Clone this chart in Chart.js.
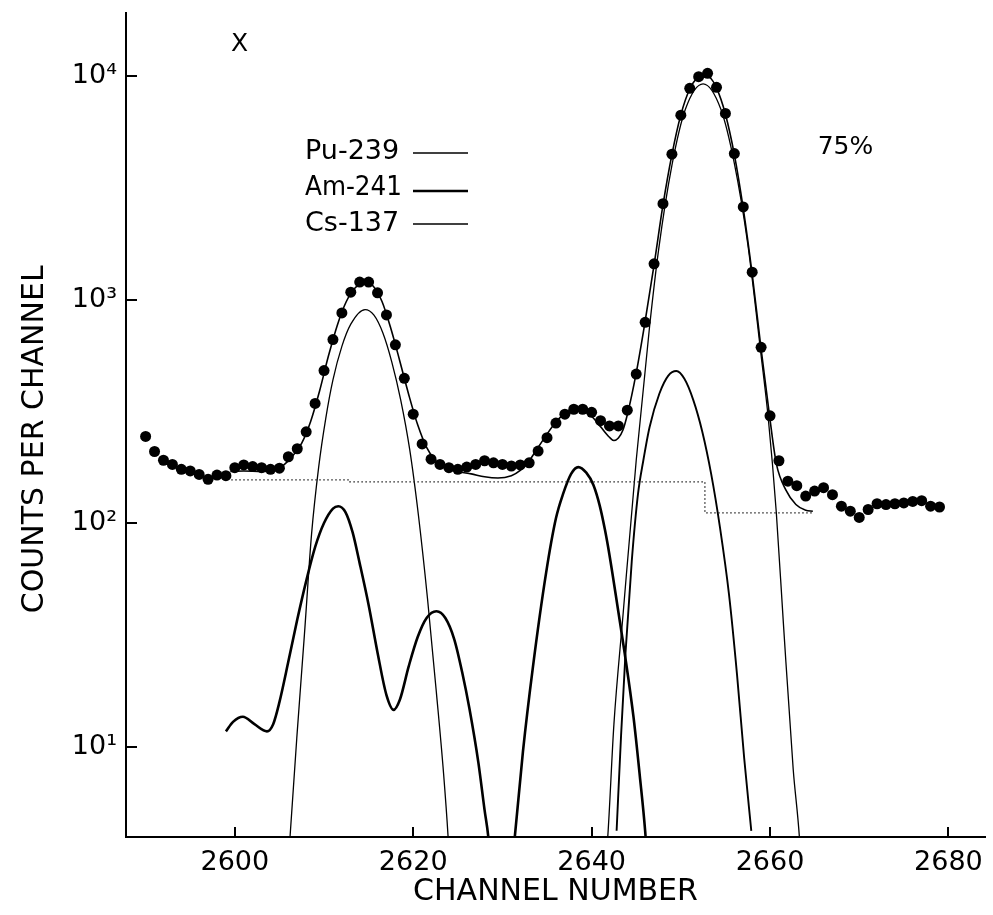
<!DOCTYPE html>
<html><head><meta charset="utf-8">
<script src="https://cdn.jsdelivr.net/npm/chart.js@4/dist/chart.umd.min.js"></script>
<style>html,body{margin:0;padding:0;background:#fff;}canvas{display:block;}</style>
</head><body>
<canvas id="c" width="993" height="915"></canvas>
<script>
// ---- measured data points (counts per channel) ----
const channels = [2590,2591,2592,2593,2594,2595,2596,2597,2598,2599,2600,2601,2602,2603,2604,2605,2606,2607,2608,2609,2610,2611,2612,2613,2614,2615,2616,2617,2618,2619,2620,2621,2622,2623,2624,2625,2626,2627,2628,2629,2630,2631,2632,2633,2634,2635,2636,2637,2638,2639,2640,2641,2642,2643,2644,2645,2646,2647,2648,2649,2650,2651,2652,2653,2654,2655,2656,2657,2658,2659,2660,2661,2662,2663,2664,2665,2666,2667,2668,2669,2670,2671,2672,2673,2674,2675,2676,2677,2678,2679];
const counts = [244,209,191,183,174,171,165,157,164,163,177,182,179,177,174,176,198,215,256,343,481,662,871,1079,1197,1197,1072,853,627,444,307,226,193,183,177,174,178,183,190,186,183,180,182,186,210,241,280,307,323,323,313,287,272,272,320,464,791,1445,2685,4470,6680,8810,9930,10280,8900,6800,4500,2595,1325,611,302,190,154,147,132,139,144,134,119,113,106,115,122,121,122,123,125,126,119,118];

// ---- total fit ----
const fitChannels = [2599.5,2601,2603,2604.5,2605.5,2606.5,2607.5,2608.5,2609.5,2610.5,2611.5,2612.5,2613.5,2614.6,2615.5,2616.5,2617.5,2618.5,2619.5,2620.5,2621.5,2622.5,2623.5,2625,2626.5,2628,2629.5,2631,2632,2633,2634,2635,2636,2637,2638,2639,2640,2641,2642,2642.5,2643,2643.5,2644,2645,2646,2647,2648,2649,2650,2651,2652,2652.6,2653.2,2654,2655,2656,2657,2658,2659,2660,2660.7,2661.8,2662.9,2664,2664.8];
const fitCounts = [170,171,170,173,182,200,228,285,390,560,770,980,1130,1200,1150,980,740,530,375,275,218,190,178,170,166,161,159,163,172,190,218,250,283,310,322,318,300,270,242,234,240,260,305,470,800,1430,2650,4450,6700,8750,9900,10050,9900,8850,6750,4450,2550,1300,600,290,185,140,121,114,113];

// ---- background (dotted step) ----
const bgChannels = [2599.6,2612.9,2652.7,2664.8];
const bgCounts = [156,153,111,111];

// ---- Pu-239 components ----
const pu1Channels = [2605.9,2606.2,2607.0,2607.8,2608.6,2609.4,2610.2,2611.0,2612.0,2613.0,2614.6,2615.6,2616.6,2617.6,2618.6,2619.6,2620.6,2621.6,2622.6,2623.4,2623.9,2624.1];
const pu1Counts = [2.5,4.0,11.7,31.6,89,178,295,437,617,776,902,851,708,525,355,214,107,46,17.4,7.6,4.0,2.8];
const pu2Channels = [2642.8,2643.3,2643.8,2644.5,2645.2,2645.8,2646.5,2647.6,2648.6,2649.5,2650.4,2651.4,2652.4,2653.4,2654.4,2655.4,2656.3,2657.1,2657.9];
const pu2Counts = [4.2,11.2,26.3,67.6,135,191,269,380,457,479,442,355,257,166,95,48,21,8.9,4.2];

// ---- Am-241 components ----
const am1Channels = [2599.0,2599.8,2600.9,2602.2,2603.6,2604.3,2605.0,2606.0,2607.0,2608.0,2609.0,2610.0,2611.0,2611.6,2612.4,2613.2,2614.0,2615.0,2616.0,2617.0,2617.8,2618.5,2619.5,2620.5,2621.5,2622.6,2623.6,2624.6,2625.5,2626.3,2627.3,2628.0,2628.4,2628.6];
const am1Counts = [11.7,12.9,13.6,12.6,11.7,12.6,15.8,24,37,55,78,100,116,119,112,91,66,43,26.3,17,14.6,16.2,22.9,30.9,37.6,40.3,37.6,30.2,21.4,14.8,8.5,5.2,4.0,3.2];
const am2Channels = [2631.2,2631.4,2632.3,2633.4,2634.9,2636.0,2636.8,2637.7,2638.5,2639.4,2640.2,2640.9,2641.5,2642.0,2643.0,2643.7,2644.7,2645.4,2646.0,2646.2];
const am2Counts = [3.2,4.0,9.5,22.4,60,105,135,166,178,168,148,120,93,72,40,26.3,13.5,7.4,4.2,3.2];

// ---- Cs-137 component ----
const csChannels = [2641.6,2641.8,2642.5,2643.5,2645.0,2646.5,2647.5,2649.0,2650.5,2652.5,2654.5,2656.0,2657.5,2659.0,2659.8,2660.7,2661.5,2662.6,2663.3,2663.5];
const csCounts = [3.2,3.9,12.6,38,191,759,1660,3980,7080,9230,7080,4070,1780,562,295,112,35.5,7.9,3.9,2.8];

// ---- axes ----
const xTickValues = [2600,2620,2640,2660,2680];
const xTickLabels = ['2600','2620','2640','2660','2680'];
const yTickValues = [10,100,1000,10000];
const yTickLabels = ['10\u00B9','10\u00B2','10\u00B3','10\u2074'];
const xMin = 2587.8, xMax = 2684.1;
const yMin = 3.94, yMax = 19140;

const pts = (xs, ys) => xs.map((x, i) => ({x: x, y: ys[i]}));

const FONT = '"DejaVu Sans", sans-serif';

const annot = {
  id: 'annot',
  afterDraw(chart) {
    const ctx = chart.ctx, xs = chart.scales.x, ys = chart.scales.y;
    ctx.save();
    ctx.strokeStyle = '#000';
    ctx.lineWidth = 2;
    xTickValues.forEach(v => {
      const p = Math.round(xs.getPixelForValue(v));
      ctx.beginPath(); ctx.moveTo(p, ys.bottom); ctx.lineTo(p, ys.bottom - 10); ctx.stroke();
    });
    yTickValues.forEach(v => {
      const p = Math.round(ys.getPixelForValue(v));
      ctx.beginPath(); ctx.moveTo(xs.left, p); ctx.lineTo(xs.left + 11, p); ctx.stroke();
    });
    ctx.fillStyle = '#000';
    ctx.font = '25px ' + FONT;
    ctx.textAlign = 'center';
    ctx.textBaseline = 'middle';
    ctx.fillText('X', 239.5, 44);
    ctx.fillText('75%', 845.5, 147);
    ctx.font = '27px ' + FONT;
    ctx.textAlign = 'left';
    ctx.textBaseline = 'alphabetic';
    const leg = [['Pu-239', 159, 153, 1.3], ['Am-241', 195, 191, 2.4], ['Cs-137', 231, 224, 1.3]];
    leg.forEach(([t, by, ly, w]) => {
      ctx.fillText(t, 305, by, 97);
      ctx.lineWidth = w;
      ctx.beginPath(); ctx.moveTo(413, ly); ctx.lineTo(468, ly); ctx.stroke();
    });
    ctx.restore();
  }
};

const lineDs = (data, w, extra) => Object.assign({
  type: 'line', data: data, borderColor: '#000', backgroundColor: '#000',
  borderWidth: w, pointRadius: 0, fill: false, cubicInterpolationMode: 'monotone'
}, extra || {});

new Chart(document.getElementById('c'), {
  type: 'line',
  data: {
    datasets: [
      { type: 'scatter', label: 'data', data: pts(channels, counts), showLine: false,
        pointRadius: 5.5, pointBackgroundColor: '#000', pointBorderColor: '#000', pointBorderWidth: 0 },
      lineDs(pts(fitChannels, fitCounts), 1.6),
      lineDs(pts(bgChannels, bgCounts), 1.3, { stepped: 'before', borderDash: [1.5, 2.5], cubicInterpolationMode: 'default', borderColor: '#222' }),
      lineDs(pts(pu1Channels, pu1Counts), 1.3),
      lineDs(pts(pu2Channels, pu2Counts), 1.9),
      lineDs(pts(am1Channels, am1Counts), 2.6),
      lineDs(pts(am2Channels, am2Counts), 2.6),
      lineDs(pts(csChannels, csCounts), 1.3)
    ]
  },
  options: {
    responsive: false,
    devicePixelRatio: 1,
    animation: false,
    layout: { padding: { top: 13, right: 8, left: 0, bottom: 0 } },
    plugins: { legend: { display: false }, tooltip: { enabled: false } },
    scales: {
      x: {
        type: 'linear', min: xMin, max: xMax,
        grid: { display: false, drawTicks: false },
        border: { display: true, color: '#000', width: 2 },
        afterBuildTicks: s => { s.ticks = xTickValues.map(v => ({ value: v })); },
        afterFit: s => { s.height = 78; s.paddingLeft = 0; s.paddingRight = 0; },
        ticks: { color: '#000', font: { family: FONT, size: 27 }, padding: 10, maxRotation: 0, autoSkip: false,
          callback: (v, i) => xTickLabels[i] },
        title: { display: true, text: 'CHANNEL NUMBER', color: '#000', font: { family: FONT, size: 30 }, padding: { top: 0, bottom: 5 } }
      },
      y: {
        type: 'logarithmic', min: yMin, max: yMax,
        grid: { display: false, drawTicks: false },
        border: { display: true, color: '#000', width: 2 },
        afterBuildTicks: s => { s.ticks = yTickValues.map(v => ({ value: v })); },
        afterFit: s => { s.width = 126; s.paddingTop = 0; s.paddingBottom = 0; },
        ticks: { color: '#000', font: { family: FONT, size: 27 }, padding: 9, autoSkip: false,
          callback: (v, i) => yTickLabels[i] },
        title: { display: true, text: 'COUNTS PER CHANNEL   ', color: '#000', font: { family: FONT, size: 30 }, padding: { top: 17, bottom: 0 } }
      }
    }
  },
  plugins: [annot]
});
</script>
</body></html>
